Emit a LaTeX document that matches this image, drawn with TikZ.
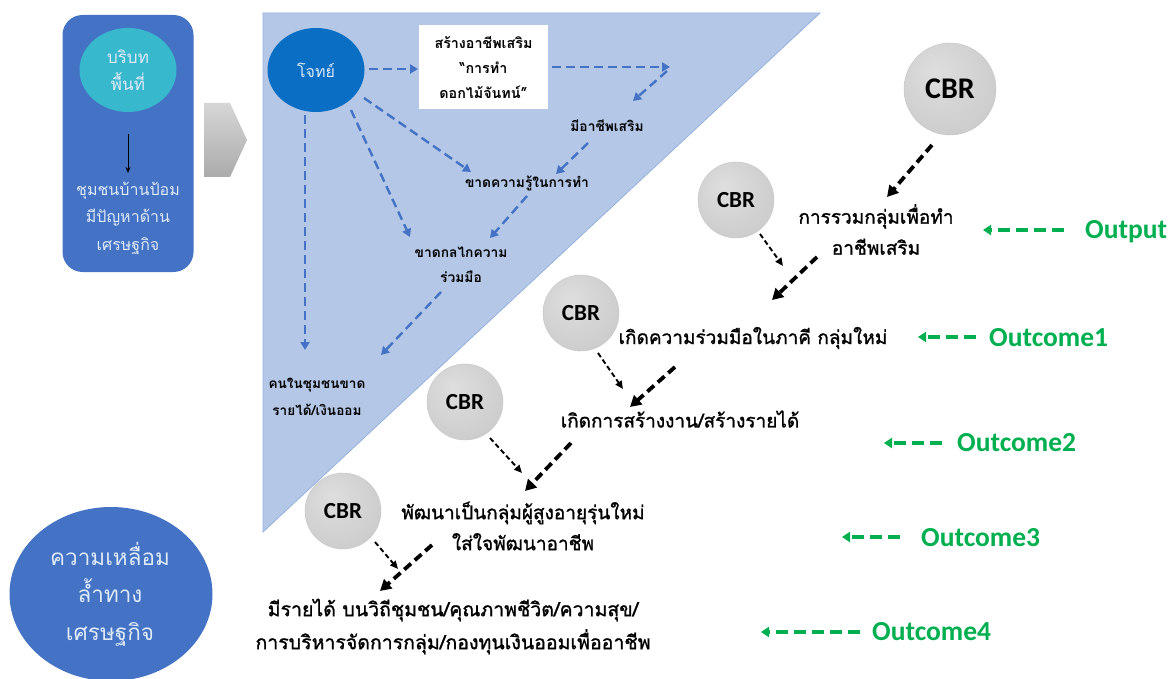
\documentclass[tikz,border=0pt]{standalone}
\usepackage{fontspec}
\newfontfamily\thai[Script=Thai]{Loma}
\newfontfamily\thaimed[Script=Thai,FakeBold=1.2]{Loma}
\newfontfamily\carl{Carlito}
\usetikzlibrary{arrows.meta,shapes.geometric}
\definecolor{boxblue}{RGB}{68,114,196}
\definecolor{tealc}{RGB}{56,184,204}
\definecolor{trifill}{RGB}{180,199,231}
\definecolor{triedge}{RGB}{150,178,222}
\definecolor{darkblue}{RGB}{10,110,196}
\definecolor{grn}{RGB}{0,176,80}
\definecolor{arrblue}{RGB}{68,114,196}
\definecolor{lighttext}{RGB}{222,234,246}
\definecolor{cbrin}{RGB}{222,222,222}
\definecolor{cbrout}{RGB}{188,188,188}
\pgfdeclareradialshading{cbrshade}{\pgfpoint{-8bp}{10bp}}{color(0bp)=(cbrin); color(30bp)=(cbrin!50!cbrout); color(50bp)=(cbrout); color(60bp)=(cbrout)}
\begin{document}
\begin{tikzpicture}[x=1pt,y=-1pt,
  bluearrow/.style={draw=arrblue,line width=2.4pt,dash pattern=on 9pt off 5pt,-{Triangle[length=8pt,width=9pt]}},
  thinblack/.style={draw=black,line width=1.9pt,dash pattern=on 5pt off 3pt,-{Triangle[length=8pt,width=7pt]}},
  thickblack/.style={draw=black,line width=3.8pt,dash pattern=on 9pt off 5pt,-{Triangle[length=11pt,width=12pt]}},
  grnarrow/.style={draw=grn,line width=3.8pt,dash pattern=on 12pt off 6pt,-{Triangle[length=8pt,width=10pt]}},
  grnlabel/.style={anchor=west,text=grn,font=\carl\bfseries\fontsize{27.5}{33}\selectfont,inner sep=0pt},
  cbr/.style={circle,shading=cbrshade,draw=gray!45,line width=0.4pt,font=\carl\bfseries\fontsize{23}{28}\selectfont,inner sep=0pt},
  tritext/.style={font=\thai\bfseries\fontsize{13.8}{25}\selectfont,align=center,inner sep=0pt},
  maintext/.style={font=\thaimed\fontsize{19}{31}\selectfont,align=center,inner sep=0pt},
  whitetext/.style={text=lighttext,align=center,inner sep=0pt}]
\useasboundingbox[fill=white] (0,0) rectangle (1170,679);

% left context box
\node[fill=boxblue,rounded corners=20pt,minimum width=131pt,minimum height=257pt,inner sep=0pt] (ctx) at (128,143.5) {};
\node[ellipse,fill=tealc,minimum width=97pt,minimum height=84pt,whitetext,font=\thai\fontsize{17}{27}\selectfont] (area) at (128,70) {บริบท\\พื้นที่};
\node[whitetext,font=\thai\fontsize{16}{27.5}\selectfont] (prob) at (128,218) {ชุมชนบ้านป้อม\\มีปัญหาด้าน\\เศรษฐกิจ};
\coordinate (a1) at (128,134);
\coordinate (a2) at (128,173);
\draw[line width=1pt,-{Stealth[length=6pt,width=5pt]}] (a1) -- (a2);

% chevron
\shade[top color=gray!32,bottom color=gray!66] (204,103) -- (230,103) -- (247,140) -- (230,177) -- (204,177) -- cycle;

% triangle
\filldraw[fill=trifill,draw=triedge,line width=0.8pt] (263,13) -- (820,13) -- (263,532) -- cycle;

% problem ellipse and nodes in the triangle
\node[ellipse,fill=darkblue,minimum width=97pt,minimum height=84pt,whitetext,font=\thai\fontsize{16}{20}\selectfont] (goal) at (316,70) {โจทย์};
\node[fill=white,minimum width=129pt,minimum height=84pt,tritext,font=\thai\bfseries\fontsize{14.3}{25}\selectfont] (make) at (483.5,67) {สร้างอาชีพเสริม\\“การทำ\\ดอกไม้จันทน์”};
\node[tritext] (job) at (607,126) {มีอาชีพเสริม};
\node[tritext] (know) at (527,183) {ขาดความรู้ในการทำ};
\node[tritext] (coop) at (461,264.5) {ขาดกลไกความ\\ร่วมมือ};
\node[tritext,font=\thai\bfseries\fontsize{13.6}{27}\selectfont] (income) at (317,396.5) {คนในชุมชนขาด\\รายได้/เงินออม};

\coordinate (b1) at (369,69);
\coordinate (b2) at (418,69);
\draw[bluearrow] (b1) -- (b2);
\coordinate (b3) at (552,67);
\coordinate (b4) at (670,67);
\draw[bluearrow] (b3) -- (b4);
\coordinate (b5) at (667,71);
\coordinate (b6) at (633,101);
\draw[bluearrow] (b5) -- (b6);
\coordinate (b7) at (588,143);
\coordinate (b8) at (556,174);
\draw[bluearrow] (b7) -- (b8);
\coordinate (b9) at (364,98);
\coordinate (b10) at (471,172);
\draw[bluearrow] (b9) -- (b10);
\coordinate (b11) at (351,110);
\coordinate (b12) at (410,237);
\draw[bluearrow] (b11) -- (b12);
\coordinate (b13) at (527,196);
\coordinate (b14) at (490,238);
\draw[bluearrow] (b13) -- (b14);
\coordinate (b15) at (441,292);
\coordinate (b16) at (381,355);
\draw[bluearrow] (b15) -- (b16);
\coordinate (b17) at (305,115);
\coordinate (b18) at (305,350);
\draw[bluearrow] (b17) -- (b18);

% CBR circles
\node[cbr,minimum size=92pt,font=\carl\bfseries\fontsize{30}{36}\selectfont] (cbr0) at (950,89) {CBR};
\node[cbr,minimum size=76pt] (cbr1) at (736,200) {CBR};
\node[cbr,minimum size=76pt] (cbr2) at (581,313) {CBR};
\node[cbr,minimum size=76pt] (cbr3) at (465,402) {CBR};
\node[cbr,minimum size=76pt] (cbr4) at (343,511) {CBR};

% outcome texts
\node[maintext] (t0) at (876,229.5) {การรวมกลุ่มเพื่อทำ\\อาชีพเสริม};
\node[maintext] (t1) at (753,338) {เกิดความร่วมมือในภาคี กลุ่มใหม่};
\node[maintext] (t2) at (680,419) {เกิดการสร้างงาน/สร้างรายได้};
\node[maintext] (t3) at (523,526) {พัฒนาเป็นกลุ่มผู้สูงอายุรุ่นใหม่\\ใส่ใจพัฒนาอาชีพ};
\node[maintext,font=\thaimed\fontsize{19.5}{33}\selectfont] (t4) at (453,626.5) {มีรายได้ บนวิถีชุมชน/คุณภาพชีวิต/ความสุข/\\การบริหารจัดการกลุ่ม/กองทุนเงินออมเพื่ออาชีพ};

% black dashed arrows
\coordinate (c1) at (932,145);
\coordinate (c2) at (887,197);
\draw[thickblack] (c1) -- (c2);
\coordinate (c3) at (760,234);
\coordinate (c4) at (783,266);
\draw[thinblack] (c3) -- (c4);
\coordinate (c5) at (817,257);
\coordinate (c6) at (772,300);
\draw[thickblack] (c5) -- (c6);
\coordinate (c7) at (598,353);
\coordinate (c8) at (623,389);
\draw[thinblack] (c7) -- (c8);
\coordinate (c9) at (675,367);
\coordinate (c10) at (630,407);
\draw[thickblack] (c9) -- (c10);
\coordinate (c11) at (490,438);
\coordinate (c12) at (522,473);
\draw[thinblack] (c11) -- (c12);
\coordinate (c13) at (571,443);
\coordinate (c14) at (525,491);
\draw[thickblack] (c13) -- (c14);
\coordinate (c15) at (375,542);
\coordinate (c16) at (398,569);
\draw[thinblack] (c15) -- (c16);
\coordinate (c17) at (432,545);
\coordinate (c18) at (380,591);
\draw[thickblack] (c17) -- (c18);

% green labels
\node[grnlabel] (lout) at (1085,232) {Output};
\node[grnlabel] (lo1) at (989,338) {Outcome1};
\node[grnlabel] (lo2) at (957,443) {Outcome2};
\node[grnlabel] (lo3) at (921,538) {Outcome3};
\node[grnlabel] (lo4) at (872,632) {Outcome4};
\coordinate (g1) at (1064,230);
\coordinate (g2) at (983,230);
\draw[grnarrow] (g1) -- (g2);
\coordinate (g3) at (976,337);
\coordinate (g4) at (918,337);
\draw[grnarrow] (g3) -- (g4);
\coordinate (g5) at (942,443);
\coordinate (g6) at (884,443);
\draw[grnarrow] (g5) -- (g6);
\coordinate (g7) at (900,537);
\coordinate (g8) at (842,537);
\draw[grnarrow] (g7) -- (g8);
\coordinate (g9) at (860,632);
\coordinate (g10) at (761,632);
\draw[grnarrow] (g9) -- (g10);

% inequality ellipse
\node[ellipse,fill=boxblue,minimum width=203pt,minimum height=174pt] (ineq) at (111,594) {};
\node[whitetext,font=\thai\fontsize{22.5}{37.5}\selectfont] (ineqtext) at (110,594) {ความเหลื่อม\\ล้ำทาง\\เศรษฐกิจ};
\end{tikzpicture}
\end{document}
